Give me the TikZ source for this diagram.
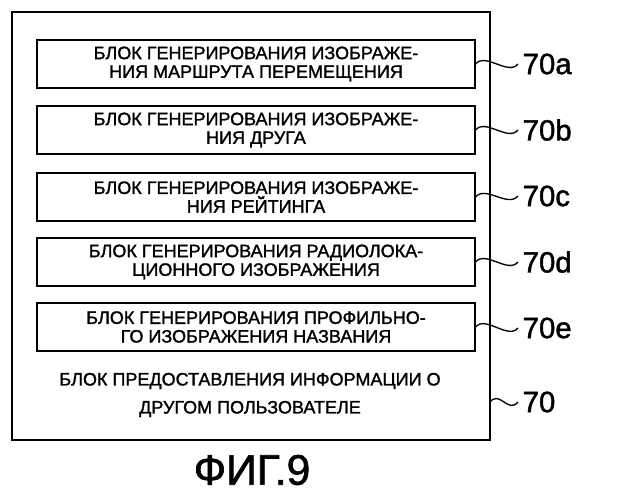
\documentclass[tikz,border=0pt]{standalone}
\usepackage{fontspec}
\setmainfont{Liberation Sans}[FakeBold=1.5]
\begin{document}
\begin{tikzpicture}[x=0.75pt,y=-0.75pt,
  blk/.style={draw,line width=1.4pt,minimum width=328pt,minimum height=36pt,align=center,font=\fontsize{13.5}{14}\selectfont,inner sep=1pt},
  lbl/.style={font=\fontsize{22}{24}\selectfont,anchor=west},
  sq/.style={line width=1pt}]
\useasboundingbox (0,0) rectangle (636,500);
\draw[line width=1.4pt] (12,12) rectangle (490,440);
\node[blk] (a) at (256,64) {БЛОК ГЕНЕРИРОВАНИЯ ИЗОБРАЖЕ-\\НИЯ МАРШРУТА ПЕРЕМЕЩЕНИЯ};
\node[blk] (b) at (256,130) {БЛОК ГЕНЕРИРОВАНИЯ ИЗОБРАЖЕ-\\НИЯ ДРУГА};
\node[blk] (c) at (256,197) {БЛОК ГЕНЕРИРОВАНИЯ ИЗОБРАЖЕ-\\НИЯ РЕЙТИНГА};
\node[blk] (d) at (256,262) {БЛОК ГЕНЕРИРОВАНИЯ РАДИОЛОКА-\\ЦИОННОГО ИЗОБРАЖЕНИЯ};
\node[blk] (e) at (256,327) {БЛОК ГЕНЕРИРОВАНИЯ ПРОФИЛЬНО-\\ГО ИЗОБРАЖЕНИЯ НАЗВАНИЯ};
\node[align=center,font=\fontsize{13.5}{21}\selectfont] (o) at (250,395) {БЛОК ПРЕДОСТАВЛЕНИЯ ИНФОРМАЦИИ О\\ДРУГОМ ПОЛЬЗОВАТЕЛЕ};
\node[lbl] (la) at (518,64) {70a};
\node[lbl] (lb) at (518,130) {70b};
\node[lbl] (lc) at (518,196) {70c};
\node[lbl] (ld) at (518,262) {70d};
\node[lbl] (le) at (518,328) {70e};
\node[lbl] (lo) at (518,402) {70};
\foreach \n/\l in {a/la,b/lb,c/lc,d/ld,e/le}{
  \draw[sq] (\n.east) .. controls +(10,-12) and +(-10,12) .. (\l.west);
}
\coordinate (oe) at (490,402);
\draw[sq] (oe) .. controls +(10,-12) and +(-10,12) .. (lo.west);
\node[font=\fontsize{32}{34}\selectfont] (t) at (252,470) {ФИГ.9};
\end{tikzpicture}
\end{document}
